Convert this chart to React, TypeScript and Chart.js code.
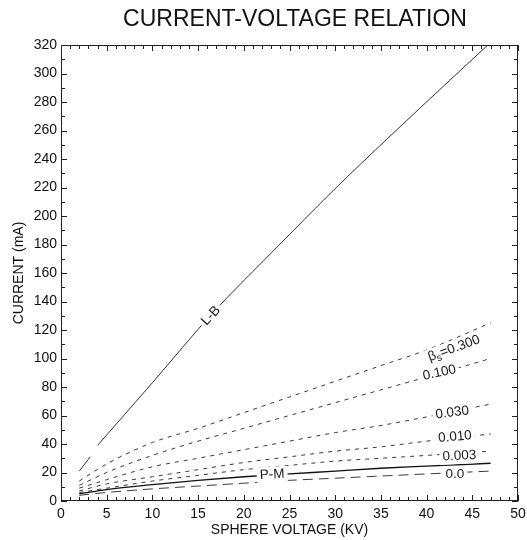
import React, { useEffect, useRef } from "react";
import { Chart, registerables } from "chart.js";

Chart.register(...registerables);

// ---- data ----
const title = "CURRENT-VOLTAGE RELATION";
const xAxisTitle = "SPHERE VOLTAGE (KV)";
const yAxisTitle = "CURRENT (mA)";

const voltage = [2, 5, 10, 15, 20, 25, 30, 35, 40, 47];
const beta300 = [14, 26, 41, 51, 62, 73, 84, 95, 106, 125];
const beta100 = [11, 20, 32, 42, 51, 60, 69, 78, 87, 100];
const beta030 = [9, 15, 24, 30, 36, 42, 48, 53, 59, 68];
const beta010 = [7, 12, 17, 22, 27, 31, 35, 38, 42, 47];
const beta003 = [6, 9, 14, 18, 22, 25, 28, 30, 32, 35];
const pmCurrent = [5, 8, 11.5, 14.5, 17, 19, 21, 23, 24.5, 26.5];
const beta000 = [4, 6, 8.5, 10.5, 12.5, 14.5, 16, 17.5, 19, 21];

const lbVoltage = [2, 3.2, 3.6, 4, 10, 16.6, 23, 29.8, 36, 42.5, 46.7];
const lbCurrent = [21, 31, null, 39, 83, 132, 174, 218, 256, 295, 320];

const xTicks = [0, 5, 10, 15, 20, 25, 30, 35, 40, 45, 50];
const yTicks = [0, 20, 40, 60, 80, 100, 120, 140, 160, 180, 200, 220, 240, 260, 280, 300, 320];

// curve labels (text, x in kV, y in mA, rotation deg)
const labelTexts = ["L-B", "β|s|=0.300", "0.100", "0.030", "0.010", "0.003", "0.0", "P-M"];
const labelX = [16.4, 43.0, 41.4, 42.8, 43.1, 43.6, 43.1, 23.1];
const labelY = [130, 107, 90, 62, 45, 31.6, 19, 18.5];
const labelRot = [-47.5, -20, -12, -7, -5, -3, 0, -3];

const FONT = "'Liberation Sans', Arial, Helvetica, sans-serif";

function pts(xs: number[], ys: (number | null)[]) {
  return xs.map((x, i) => ({ x, y: ys[i] }));
}

const framePlugin = {
  id: "frameAndLabels",
  afterDatasetsDraw(chart: any) {
    const ctx = chart.ctx;
    const { left, right, top, bottom } = chart.chartArea;
    const xs = chart.scales.x;
    const ys = chart.scales.y;
    ctx.save();
    // curve labels
    ctx.textBaseline = "middle";
    ctx.textAlign = "left";
    labelTexts.forEach((t, i) => {
      const px = xs.getPixelForValue(labelX[i]);
      const py = ys.getPixelForValue(labelY[i]);
      const parts = t.split("|");
      ctx.save();
      ctx.translate(px, py);
      ctx.rotate((labelRot[i] * Math.PI) / 180);
      let w = 0;
      const widths: number[] = [];
      parts.forEach((p, k) => {
        ctx.font = k === 1 ? `10px ${FONT}` : `13.5px ${FONT}`;
        const m = ctx.measureText(p).width;
        widths.push(m);
        w += m;
      });
      ctx.fillStyle = "#fff";
      ctx.fillRect(-w / 2 - 3, -8, w + 6, 16);
      ctx.fillStyle = "#1a1a1a";
      let cx = -w / 2;
      parts.forEach((p, k) => {
        ctx.font = k === 1 ? `10px ${FONT}` : `13.5px ${FONT}`;
        ctx.fillText(p, cx, k === 1 ? 4 : 0);
        cx += widths[k];
      });
      ctx.restore();
    });

    // frame
    ctx.strokeStyle = "#222";
    ctx.lineWidth = 1;
    ctx.strokeRect(left + 0.5, top + 0.5, right - left - 1, bottom - top - 1);
    // ticks (inward)
    ctx.beginPath();
    for (let v = 0; v <= 50; v += 1) {
      const px = Math.round(xs.getPixelForValue(v)) + 0.5;
      const len = v % 5 === 0 ? 6 : 4;
      ctx.moveTo(px, bottom);
      ctx.lineTo(px, bottom - len);
      ctx.moveTo(px, top);
      ctx.lineTo(px, top + len);
    }
    for (let v = 0; v <= 320; v += 10) {
      const py = Math.round(ys.getPixelForValue(v)) + 0.5;
      const len = v % 20 === 0 ? 6 : 4;
      ctx.moveTo(left, py);
      ctx.lineTo(left + len, py);
      ctx.moveTo(right, py);
      ctx.lineTo(right - len, py);
    }
    ctx.stroke();

    // titles
    ctx.fillStyle = "#111";
    ctx.textAlign = "center";
    ctx.textBaseline = "middle";
    ctx.font = `23px ${FONT}`;
    ctx.fillText(title, 295, 20);
    ctx.font = `14px ${FONT}`;
    ctx.fillText(xAxisTitle, (left + right) / 2, 530);
    ctx.save();
    ctx.translate(19, (top + bottom) / 2);
    ctx.rotate(-Math.PI / 2);
    ctx.fillText(yAxisTitle, 0, 0);
    ctx.restore();
    ctx.restore();
  },
};

export default function App() {
  const ref = useRef<HTMLCanvasElement | null>(null);
  useEffect(() => {
    if (!ref.current) return;
    const dashed = (data: any, dash: number[]) => ({
      data,
      borderColor: "#3a3a3a",
      borderWidth: 1,
      borderDash: dash,
      pointRadius: 0,
      showLine: true,
      cubicInterpolationMode: "monotone" as const,
      fill: false,
    });
    const chart = new Chart(ref.current, {
      type: "scatter",
      data: {
        datasets: [
          {
            label: "L-B",
            data: pts(lbVoltage, lbCurrent),
            borderColor: "#333",
            borderWidth: 1,
            pointRadius: 0,
            showLine: true,
            spanGaps: false,
            cubicInterpolationMode: "monotone",
          },
          { label: "0.300", ...dashed(pts(voltage, beta300), [4, 5]) },
          { label: "0.100", ...dashed(pts(voltage, beta100), [4, 5]) },
          { label: "0.030", ...dashed(pts(voltage, beta030), [4, 5]) },
          { label: "0.010", ...dashed(pts(voltage, beta010), [4, 5]) },
          { label: "0.003", ...dashed(pts(voltage, beta003), [4, 5]) },
          {
            label: "P-M",
            data: pts(voltage, pmCurrent),
            borderColor: "#111",
            borderWidth: 1.4,
            pointRadius: 0,
            showLine: true,
            cubicInterpolationMode: "monotone",
          },
          { label: "0.0", ...dashed(pts(voltage, beta000), [10, 6]) },
        ] as any,
      },
      options: {
        animation: false,
        responsive: false,
        layout: { padding: { left: 0, top: 45, right: 9, bottom: 0 } },
        plugins: { legend: { display: false }, tooltip: { enabled: false }, title: { display: false } },
        scales: {
          x: {
            type: "linear",
            min: 0,
            max: 50,
            grid: { display: false, drawTicks: false },
            border: { display: false },
            afterBuildTicks: (s: any) => {
              s.ticks = xTicks.map((v) => ({ value: v }));
            },
            afterFit: (s: any) => {
              s.height = 39;
              s.paddingLeft = 0;
              s.paddingRight = 0;
            },
            ticks: { color: "#111", font: { size: 14, family: FONT }, padding: 5, maxRotation: 0, autoSkip: false },
          },
          y: {
            type: "linear",
            min: 0,
            max: 320,
            grid: { display: false, drawTicks: false },
            border: { display: false },
            afterBuildTicks: (s: any) => {
              s.ticks = yTicks.map((v) => ({ value: v }));
            },
            afterFit: (s: any) => {
              s.width = 61;
              s.paddingTop = 0;
              s.paddingBottom = 0;
            },
            ticks: { color: "#111", font: { size: 14, family: FONT }, padding: 4, autoSkip: false },
          },
        },
      },
      plugins: [framePlugin],
    });
    return () => chart.destroy();
  }, []);
  return (
    <div style={{ position: "absolute", left: 0, top: 0, width: 527, height: 540, background: "#fff" }}>
      <canvas ref={ref} width={527} height={540} />
    </div>
  );
}
